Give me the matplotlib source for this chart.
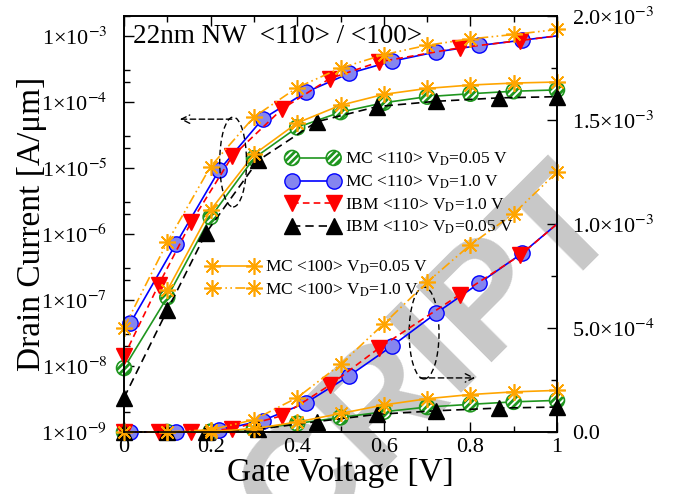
import matplotlib as mpl
import matplotlib.pyplot as plt
from matplotlib.lines import Line2D
from matplotlib.patches import Ellipse
from matplotlib.legend_handler import HandlerTuple
from matplotlib.ticker import LogLocator, MultipleLocator, FuncFormatter, NullFormatter
import numpy as np

# ---- data (drain current in A/um) ----
vg_mc110_005 = [0.0, 0.1, 0.2, 0.3, 0.4, 0.5, 0.6, 0.7, 0.8, 0.9, 1.0]
id_mc110_005 = [9.3e-9, 1.1e-7, 1.8e-6, 1.4e-5, 4.1e-5, 7.0e-5, 9.7e-5, 1.2e-4, 1.33e-4, 1.45e-4, 1.52e-4]

vg_mc110_10 = [0.015, 0.12, 0.22, 0.32, 0.42, 0.52, 0.62, 0.72, 0.82, 0.92, 1.0]
id_mc110_10 = [4.5e-8, 7.1e-7, 9.3e-6, 5.5e-5, 1.4e-4, 2.7e-4, 4.15e-4, 5.7e-4, 7.15e-4, 8.6e-4, 1.0e-3]

vg_ibm110_10 = [0.0, 0.08, 0.155, 0.25, 0.365, 0.475, 0.59, 0.775, 0.915, 1.0]
id_ibm110_10 = [1.4e-8, 1.7e-7, 1.5e-6, 1.5e-5, 7.8e-5, 2.25e-4, 4.05e-4, 6.6e-4, 8.5e-4, 1.0e-3]

vg_ibm110_005 = [0.0, 0.1, 0.19, 0.31, 0.445, 0.585, 0.72, 0.865, 1.0]
id_ibm110_005 = [3.3e-9, 7.0e-8, 1.05e-6, 1.3e-5, 5.0e-5, 8.5e-5, 1.02e-4, 1.15e-4, 1.2e-4]

vg_mc100_005 = [0.1, 0.2, 0.3, 0.4, 0.5, 0.6, 0.7, 0.8, 0.9, 1.0]
id_mc100_005 = [1.4e-7, 2.3e-6, 1.6e-5, 4.8e-5, 8.9e-5, 1.3e-4, 1.6e-4, 1.8e-4, 1.93e-4, 2.0e-4]

vg_mc100_10 = [0.0, 0.1, 0.2, 0.3, 0.4, 0.5, 0.6, 0.7, 0.8, 0.9, 1.0]
id_mc100_10 = [3.8e-8, 7.5e-7, 1.05e-5, 5.9e-5, 1.65e-4, 3.25e-4, 5.2e-4, 7.2e-4, 9.0e-4, 1.05e-3, 1.25e-3]

labels_110 = ["MC <110> V$_{\\rm D}$=0.05 V", "MC <110> V$_{\\rm D}$=1.0 V",
              "IBM <110> V$_{\\rm D}$=1.0 V", "IBM <110> V$_{\\rm D}$=0.05 V"]
labels_100 = ["MC <100> V$_{\\rm D}$=0.05 V", "MC <100> V$_{\\rm D}$=1.0 V"]
xtick_labels = ["0", "0.2", "0.4", "0.6", "0.8", "1"]

GREEN = "#1f961f"
BLUE = "#0000ff"
RED = "#ff0000"
ORANGE = "#ffa500"

plt.rcParams["font.family"] = ["Liberation Serif", "DejaVu Serif"]
plt.rcParams["mathtext.fontset"] = "stix"
plt.rcParams["hatch.color"] = GREEN
plt.rcParams["hatch.linewidth"] = 2.0

fig = plt.figure(figsize=(6.75, 4.94), dpi=100)
ax = fig.add_axes([124 / 675, 1 - 432 / 494, 433 / 675, 416 / 494])
ax.set_facecolor("none")
ax2 = ax.twinx()

# styles
blue_st = dict(color=BLUE, lw=1.2, marker="o", ms=11, mfc="#8585ef", mec=BLUE, mew=1.0)
red_st = dict(color=RED, lw=1.2, ls=(0, (4, 2.5)), marker="v", ms=11, mfc=RED, mec=RED)
black_st = dict(color="black", lw=1.2, ls=(0, (5, 3)), marker="^", ms=11, mfc="black", mec="black")
or1_st = dict(color=ORANGE, lw=1.2, marker=(8, 2, 0), ms=12, mew=1.2)
or2_st = dict(color=ORANGE, lw=1.2, ls=(0, (6, 2, 1, 2, 1, 2)), marker=(8, 2, 0), ms=12, mew=1.2)


def line_and_marks(a, x, y, st, nmark=None):
    line_kw = {k: v for k, v in st.items() if not k.startswith("m")}
    mark_kw = {k: v for k, v in st.items() if k.startswith("m") or k == "color"}
    a.plot(x, y, clip_on=False, **line_kw)
    n = len(x) if nmark is None else nmark
    a.plot(x[:n], y[:n], ls="none", clip_on=False, **mark_kw)


for a in (ax, ax2):
    a.plot(vg_mc110_005, id_mc110_005, color=GREEN, lw=1.2, clip_on=False)
    green_sc = a.scatter(vg_mc110_005, id_mc110_005, s=115, facecolor="white",
                         edgecolor=GREEN, linewidths=1.2, hatch="/////", zorder=2, clip_on=False)
    line_and_marks(a, vg_mc110_10, id_mc110_10, blue_st, nmark=10)
    line_and_marks(a, vg_ibm110_10, id_ibm110_10, red_st, nmark=9)
    line_and_marks(a, vg_ibm110_005, id_ibm110_005, black_st)
    line_and_marks(a, vg_mc100_005, id_mc100_005, or1_st)
    line_and_marks(a, vg_mc100_10, id_mc100_10, or2_st)

# axes ranges / ticks
ax.set_xlim(0, 1)
ax.set_yscale("log")
ax.set_ylim(1e-9, 2e-3)
ax2.set_ylim(0, 2e-3)

ax.xaxis.set_minor_locator(MultipleLocator(0.1))
ax.set_xticks(np.linspace(0, 1, 6))
ax.set_xticklabels(xtick_labels)

ax.yaxis.set_major_locator(LogLocator(base=10, numticks=12))
ax.yaxis.set_minor_locator(LogLocator(base=10, subs=(2, 3), numticks=12))
ax.yaxis.set_minor_formatter(NullFormatter())
ax.yaxis.set_major_formatter(FuncFormatter(lambda v, p: "1\u00d710$^{%d}$" % round(np.log10(v))))


def lin_fmt(v, p):
    if v <= 0:
        return "0.0"
    e = int(np.floor(np.log10(v) + 1e-9))
    return "%.1f\u00d710$^{%d}$" % (v / 10 ** e, e)


ax2.yaxis.set_major_locator(MultipleLocator(5e-4))
ax2.yaxis.set_minor_locator(MultipleLocator(2.5e-4))
ax2.yaxis.set_major_formatter(FuncFormatter(lin_fmt))

ax.tick_params(which="both", direction="in", top=True, labelsize=16, width=1.0)
ax.tick_params(which="major", length=7)
ax.tick_params(which="minor", length=4)
ax.tick_params(axis="y", pad=12)
ax.tick_params(axis="x", pad=4)
ax2.tick_params(which="both", direction="in", labelsize=16, width=1.0, pad=11)
ax2.tick_params(which="major", length=7)
ax2.tick_params(which="minor", length=4)
for a in (ax, ax2):
    for s in a.spines.values():
        s.set_linewidth(1.2)

ax.set_xlabel("Gate Voltage [V]", fontsize=24)
ax.xaxis.set_label_coords(0.5, -0.062)
ax.set_ylabel("Drain Current [A/\u03bcm]", fontsize=24)
ax.yaxis.set_label_coords(-0.178, 0.5)

ax.text(0.021, 0.935, "22nm NW  <110> / <100>", transform=ax.transAxes,
        fontsize=19.5, va="baseline")

# guide ellipses and arrows
for cx, cy, w, h in [(0.252, 0.649, 0.062, 0.216), (0.693, 0.238, 0.069, 0.221)]:
    ax2.add_patch(Ellipse((cx, cy), w, h, transform=ax.transAxes, fill=False,
                          ls=(0, (4, 2.5)), lw=1.0, color="black"))
ax2.annotate("", xy=(0.129, 0.752), xytext=(0.249, 0.752), xycoords=ax.transAxes,
             arrowprops=dict(arrowstyle="->,head_length=0.6,head_width=0.3",
                             ls=(0, (4, 2.5)), lw=1.0, color="black", shrinkA=0, shrinkB=0))
ax2.annotate("", xy=(0.811, 0.130), xytext=(0.684, 0.130), xycoords=ax.transAxes,
             arrowprops=dict(arrowstyle="->,head_length=0.6,head_width=0.3",
                             ls=(0, (4, 2.5)), lw=1.0, color="black", shrinkA=0, shrinkB=0))

# legends
g_line = Line2D([], [], color=GREEN, lw=1.2)
h110 = [(g_line, green_sc), Line2D([], [], **blue_st), Line2D([], [], **red_st),
        Line2D([], [], **black_st)]
h100 = [Line2D([], [], **or1_st), Line2D([], [], **or2_st)]
leg_kw = dict(frameon=False, fontsize=12.5, numpoints=2, scatterpoints=2,
              scatteryoffsets=[0.5], handlelength=3.0, handletextpad=0.35,
              labelspacing=0.3, borderpad=0, borderaxespad=0,
              handler_map={tuple: HandlerTuple(ndivide=1, pad=0)})
leg1 = ax2.legend(h110, labels_110, loc="center left", bbox_to_anchor=(0.376, 0.573), **leg_kw)
ax2.add_artist(leg1)
ax2.legend(h100, labels_100, loc="center left", bbox_to_anchor=(0.192, 0.368), **leg_kw)

# watermark
fig.text(0.637, 0.271, "CRIPT", rotation=45, fontsize=112, fontweight="bold",
         color="#c8c8c8", ha="center", va="center", family="Liberation Sans", zorder=-1)

fig.savefig("out.png", dpi=100)
